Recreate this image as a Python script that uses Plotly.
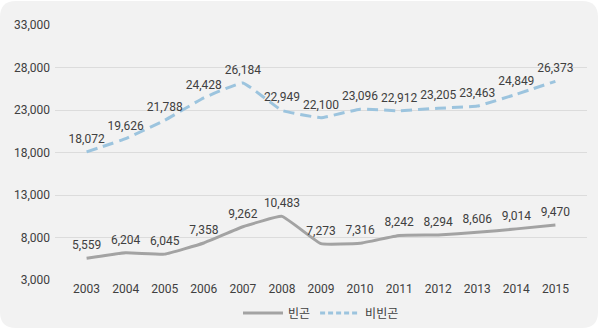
import plotly.graph_objects as go

years = ["2003","2004","2005","2006","2007","2008","2009","2010","2011","2012","2013","2014","2015"]
poor = [5559, 6204, 6045, 7358, 9262, 10483, 7273, 7316, 8242, 8294, 8606, 9014, 9470]
nonpoor = [18072, 19626, 21788, 24428, 26184, 22949, 22100, 23096, 22912, 23205, 23463, 24849, 26373]
yticks = [3000, 8000, 13000, 18000, 23000, 28000, 33000]

W, H = 600, 330
L, R, T, B = 55, 13, 25, 50
pw, ph = W - L - R, H - T - B

def px(x):
    return (x - L) / pw

def py(y):
    return (H - B - y) / ph

def fmt(v):
    return f"{v:,}"

FONT = "Roboto, Noto Sans CJK KR"
GRAY = "#a3a3a3"
BLUE = "#9cc4de"
DASH = "11px,6px"

fig = go.Figure()
fig.add_trace(go.Scatter(
    x=years, y=poor, name="빈곤", mode="lines+markers+text", showlegend=False,
    line=dict(color=GRAY, width=3, shape="spline", smoothing=0.3),
    marker=dict(size=8, opacity=0),
    text=[fmt(v) for v in poor], textposition="top center",
    textfont=dict(size=12, color="#404040", family=FONT),
))
fig.add_trace(go.Scatter(
    x=years, y=nonpoor, name="비빈곤", mode="lines+markers+text", showlegend=False,
    line=dict(color=BLUE, width=3, dash=DASH, shape="spline", smoothing=0.3),
    marker=dict(size=8, opacity=0),
    text=[fmt(v) for v in nonpoor], textposition="top center",
    textfont=dict(size=12, color="#404040", family=FONT),
))
# legend entries
fig.add_trace(go.Scatter(x=[None], y=[None], name="빈곤", mode="lines",
                         line=dict(color=GRAY, width=3)))
fig.add_trace(go.Scatter(x=[None], y=[None], name="비빈곤", mode="lines",
                         line=dict(color=BLUE, width=3, dash="5px,3px")))

# rounded background panel
x0, y0, x1, y1, r = 0, 1, 598, 328, 16
path = (f"M {px(x0+r)},{py(y0)} L {px(x1-r)},{py(y0)} "
        f"Q {px(x1)},{py(y0)} {px(x1)},{py(y0+r)} "
        f"L {px(x1)},{py(y1-r)} Q {px(x1)},{py(y1)} {px(x1-r)},{py(y1)} "
        f"L {px(x0+r)},{py(y1)} Q {px(x0)},{py(y1)} {px(x0)},{py(y1-r)} "
        f"L {px(x0)},{py(y0+r)} Q {px(x0)},{py(y0)} {px(x0+r)},{py(y0)} Z")
fig.add_shape(type="path", path=path, xref="paper", yref="paper",
              fillcolor="#f2f2f2", line=dict(width=0), layer="below")

fig.update_layout(
    width=W, height=H,
    margin=dict(l=L, r=R, t=T, b=B, autoexpand=False),
    paper_bgcolor="white", plot_bgcolor="rgba(0,0,0,0)",
    font=dict(family=FONT, size=12, color="#404040"),
    showlegend=True,
    legend=dict(orientation="h", x=0.5, xanchor="center", y=py(313), yanchor="middle",
                font=dict(size=12, color="#404040"), bgcolor="rgba(0,0,0,0)",
                itemwidth=40, tracegroupgap=0),
    xaxis=dict(type="category", showgrid=False, zeroline=False, showline=False,
               ticks="", tickfont=dict(size=12, color="#404040")),
    yaxis=dict(range=[3000, 33000], tickvals=yticks,
               ticktext=[fmt(v) for v in yticks],
               showgrid=True, gridcolor="#dcdcdc", gridwidth=1,
               zeroline=False, showline=False, ticks="", ticklen=0,
               ticklabelstandoff=4,
               tickfont=dict(size=12, color="#404040")),
)

fig.write_html("out.html")
